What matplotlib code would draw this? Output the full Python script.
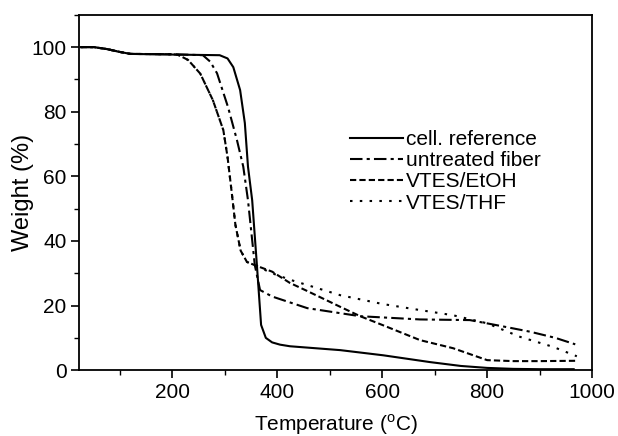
import numpy as np
import matplotlib
matplotlib.use("Agg")
import matplotlib.pyplot as plt
from matplotlib.ticker import MultipleLocator

plt.rcParams['font.family'] = ['Liberation Sans', 'DejaVu Sans']
plt.rcParams['mathtext.fontset'] = 'custom'
plt.rcParams['mathtext.rm'] = 'Liberation Sans'

# TGA curves
t_ref = [25, 50, 75, 100, 120, 200, 290, 305, 316, 329, 338, 344, 352, 361, 369,
         378, 390, 405, 424, 520, 602, 691, 750, 800, 850, 900, 965]
w_ref = [100, 100, 99.4, 98.5, 97.9, 97.7, 97.5, 96.5, 93.8, 86.7, 76.5, 63, 52.6,
         32.5, 14, 10, 8.6, 7.9, 7.4, 6.2, 4.6, 2.5, 1.3, 0.7, 0.4, 0.3, 0.3]

t_fib = [25, 50, 75, 100, 120, 200, 258, 272, 285, 306, 323, 335, 344, 357, 367,
         390, 457, 558, 672, 767, 819, 882, 930, 968]
w_fib = [100, 100, 99.4, 98.5, 97.9, 97.8, 97.5, 95.5, 91.9, 81.4, 71.2, 63, 52.6,
         32.5, 24.8, 22.8, 19.2, 16.7, 15.7, 15.5, 13.9, 11.9, 10.0, 8.0]

t_etoh = [25, 50, 75, 100, 120, 200, 211, 230, 253, 277, 297, 305, 313, 320, 330,
          342, 357, 390, 424, 457, 520, 558, 600, 672, 735, 800, 850, 900, 968]
w_etoh = [100, 100, 99.4, 98.5, 97.9, 97.8, 97.6, 96, 91.8, 83.6, 74.3, 66, 55, 45,
          37, 33.5, 32.5, 30.5, 27, 24.5, 19.6, 16.7, 14, 9.3, 6.8, 3.1, 2.8, 2.8, 2.9]

t_thf = [25, 50, 75, 100, 120, 200, 211, 230, 253, 277, 297, 305, 313, 320, 330,
         342, 357, 390, 424, 520, 600, 672, 735, 800, 863, 926, 971]
w_thf = [100, 100, 99.4, 98.5, 97.9, 97.8, 97.6, 96, 91.8, 83.6, 74.3, 66, 55, 45,
         37, 33.5, 32.5, 30, 28, 23.2, 20.5, 18.6, 17.0, 14.5, 10.3, 7.2, 4.3]

labels = ['cell. reference', 'untreated fiber', 'VTES/EtOH', 'VTES/THF']

fig = plt.figure(figsize=(6.18, 4.36), dpi=100)
ax = fig.add_axes([0.128, 0.151, 0.830, 0.815])

ax.plot(t_ref, w_ref, color='black', lw=1.5, ls='-', label=labels[0])
ax.plot(t_fib, w_fib, color='black', lw=1.5, ls=(0, (6, 2, 1.5, 2)), label=labels[1])
ax.plot(t_etoh, w_etoh, color='black', lw=1.5, ls=(0, (3, 1.5)), label=labels[2])
ax.plot(t_thf, w_thf, color='black', lw=1.5, ls=(0, (1.2, 3.5)), label=labels[3])

ax.set_xlim(22, 1000)
ax.set_ylim(0, 110)
ax.xaxis.set_major_locator(MultipleLocator(200))
ax.xaxis.set_minor_locator(MultipleLocator(100))
ax.yaxis.set_major_locator(MultipleLocator(20))
ax.yaxis.set_minor_locator(MultipleLocator(10))
ax.tick_params(which='major', direction='out', length=6, width=1.2, labelsize=15, pad=3)
ax.tick_params(which='minor', direction='out', length=3.5, width=1)
for s in ax.spines.values():
    s.set_linewidth(1.3)

ax.set_xlabel('Temperature ($^{\\mathrm{o}}$C)', fontsize=15, labelpad=8)
ax.set_ylabel('Weight (%)', fontsize=17, labelpad=-2)

ax.legend(loc='upper left', bbox_to_anchor=(0.528, 0.675), frameon=False,
          fontsize=15, handlelength=2.55, handletextpad=0.15, labelspacing=0.1,
          borderpad=0, borderaxespad=0)

fig.savefig('out.png', dpi=100)
